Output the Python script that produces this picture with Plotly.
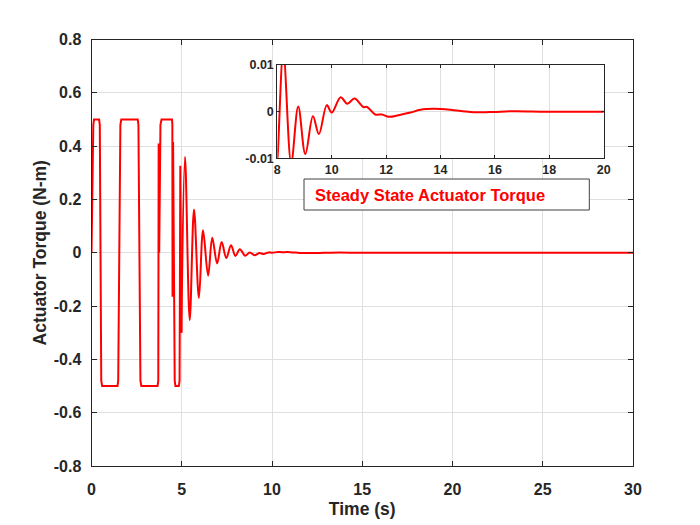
import plotly.graph_objects as go

# ---- data ----
# bang-bang / switching phase (drawn with straight segments)
t_switch = [0, 0.05, 0.10, 0.14, 0.42, 0.46, 0.54, 0.59, 1.44, 1.48, 1.60, 1.65,
            2.56, 2.60, 2.71, 2.76, 3.66, 3.70, 3.72, 3.75, 3.82, 3.88, 4.46, 4.48,
            4.49, 4.52, 4.61, 4.65, 4.84, 4.88, 4.92, 4.98]
tau_switch = [0, 0.30, 0.48, 0.50, 0.50, 0.48, -0.48, -0.50, -0.50, -0.48, 0.48, 0.50,
              0.50, 0.48, -0.48, -0.50, -0.50, -0.48, 0.41, 0.0, 0.48, 0.50, 0.50, 0.48,
              -0.165, 0.415, -0.48, -0.50, -0.50, -0.48, 0.326, -0.30]

# settling phase (smooth oscillation decaying to zero)
t_settle = [4.98, 5.18, 5.44, 5.68, 5.95, 6.18, 6.46, 6.69, 6.96, 7.21, 7.47, 7.73,
            7.97, 8.22, 8.51, 8.77, 9.03, 9.31, 9.53, 9.82, 10.0, 10.33, 10.57, 10.84,
            11.16, 11.30, 11.60, 11.85, 12.1, 12.5, 12.9, 13.26, 13.75, 14.36, 15.1,
            15.8, 16.7, 17.9, 20.0, 25.0, 30.0]
tau_settle = [-0.30, 0.36, -0.253, 0.162, -0.17, 0.084, -0.086, 0.056, -0.040, 0.040,
              -0.020, 0.028, -0.012, 0.013, -0.011, 0.0011, -0.0091, -0.0010, -0.0048,
              0.0014, -0.0002, 0.0031, 0.0017, 0.0028, 0.0010, 0.0010, -0.0006, -0.0006,
              -0.0011, -0.0007, -0.0002, 0.0004, 0.0006, 0.0004, -0.0001, -0.0001,
              0.0001, 0.0, 0.0, 0.0, 0.0]

main_xticks = [0, 5, 10, 15, 20, 25, 30]
main_yticks = [-0.8, -0.6, -0.4, -0.2, 0, 0.2, 0.4, 0.6, 0.8]
main_ylabels = ['-0.8', '-0.6', '-0.4', '-0.2', '0', '0.2', '0.4', '0.6', '0.8']
inset_xticks = [8, 10, 12, 14, 16, 18, 20]
inset_yticks = [-0.01, 0, 0.01]
inset_ylabels = ['-0.01', '0', '0.01']
inset_label = 'Steady State Actuator Torque'

FONT = 'Liberation Sans, Arial, Helvetica, sans-serif'
AX = '#262626'
GRID = '#dfdfdf'
RED = '#ff0000'

W, H = 700, 525
OFF = 8  # page body margin of the written html


def px_x(X):
    return (X - OFF) / W


def px_y(Y):
    return 1 - (Y - OFF) / H


fig = go.Figure()
fig.add_trace(go.Scatter(x=t_switch, y=tau_switch, mode='lines',
                         line=dict(color=RED, width=2), xaxis='x', yaxis='y',
                         showlegend=False))
fig.add_trace(go.Scatter(x=t_settle, y=tau_settle, mode='lines',
                         line=dict(color=RED, width=2, shape='spline', smoothing=1),
                         xaxis='x', yaxis='y', showlegend=False))
fig.add_trace(go.Scatter(x=t_settle, y=tau_settle, mode='lines',
                         line=dict(color=RED, width=2, shape='spline', smoothing=1),
                         xaxis='x2', yaxis='y2', showlegend=False))

axis_common = dict(showline=True, linecolor=AX, linewidth=1, mirror='allticks',
                   ticks='inside', tickcolor=AX, showgrid=True, gridcolor=GRID,
                   gridwidth=1, zeroline=False, automargin=False)

fig.update_layout(
    width=W, height=H,
    margin=dict(l=0, r=0, t=0, b=0),
    paper_bgcolor='white', plot_bgcolor='white',
    font=dict(family=FONT, color=AX),
    xaxis=dict(domain=[px_x(91.5), px_x(633)], range=[0, 30], tickvals=main_xticks,
               ticklen=5, ticklabelstandoff=9,
               tickfont=dict(size=16, weight='bold', color=AX),
               title=dict(text='Time (s)', font=dict(size=17.5, weight='bold', color=AX),
                          standoff=5),
               **axis_common),
    yaxis=dict(domain=[px_y(466), px_y(39.5)], range=[-0.8, 0.8], tickvals=main_yticks,
               ticktext=main_ylabels, ticklen=5, ticklabelstandoff=6,
               tickfont=dict(size=16, weight='bold', color=AX),
               title=dict(text='Actuator Torque (N-m)',
                          font=dict(size=17.5, weight='bold', color=AX), standoff=2),
               **axis_common),
    xaxis2=dict(domain=[px_x(277.3), px_x(603.7)], range=[8, 20], tickvals=inset_xticks,
                anchor='y2', ticklen=3, ticklabelstandoff=0,
                tickfont=dict(size=12.5, weight='bold', color=AX),
                **axis_common),
    yaxis2=dict(domain=[px_y(158.3), px_y(65)], range=[-0.01, 0.01], tickvals=inset_yticks,
                ticktext=inset_ylabels, anchor='x2', ticklen=3, ticklabelstandoff=0,
                tickfont=dict(size=12.5, weight='bold', color=AX), **axis_common),
    shapes=[dict(type='rect', xref='paper', yref='paper', x0=px_x(304), x1=px_x(589.3),
                 y0=px_y(210), y1=px_y(179), fillcolor='white',
                 line=dict(color='#404040', width=1), layer='above')],
    annotations=[dict(text=inset_label, xref='paper', yref='paper', x=px_x(313),
                      y=px_y(194.5), xanchor='left', yanchor='middle', showarrow=False,
                      font=dict(size=16.5, weight='bold', color=RED, family=FONT))],
)

fig.write_html('out.html')
